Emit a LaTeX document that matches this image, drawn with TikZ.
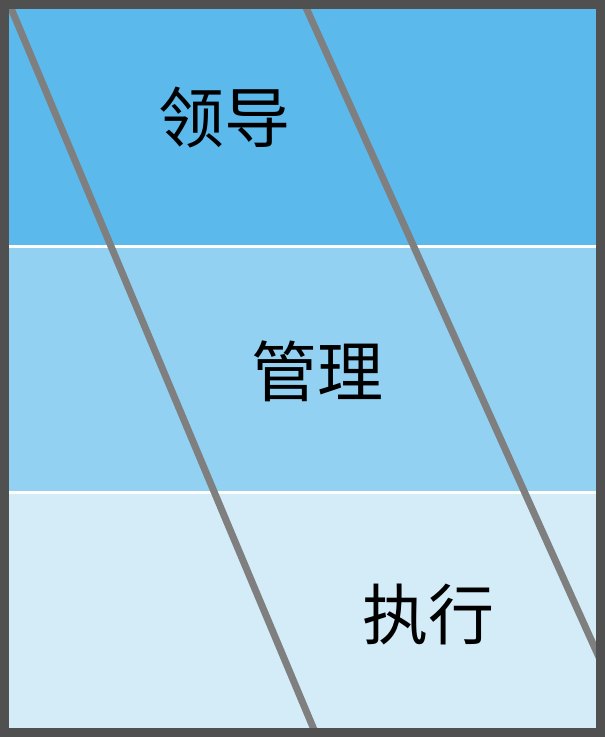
\documentclass[tikz,border=0pt]{standalone}
\usepackage{fontspec}
\newfontfamily\cjk{Noto Sans CJK SC}
\definecolor{topband}{HTML}{5BB9EC}
\definecolor{midband}{HTML}{92D1F2}
\definecolor{lowband}{HTML}{D3ECF8}
\definecolor{diag}{HTML}{7F7F7F}
\definecolor{frame}{HTML}{505050}
\tikzset{
  band/.style={draw=none},
  sep/.style={white, line width=3pt},
  diagline/.style={diag, line width=7pt},
  label/.style={font=\cjk\fontsize{66}{72}\selectfont, text=black, inner sep=0pt},
}
\begin{document}
\begin{tikzpicture}[x=1pt,y=-1pt]
\useasboundingbox (0,0) rectangle (605,737);
\begin{scope}
  \clip (0,0) rectangle (605,737);
  \fill[topband] (0,0) rectangle (605,246);
  \fill[midband] (0,246) rectangle (605,492);
  \fill[lowband] (0,492) rectangle (605,737);
  \draw[sep] (0,246) -- (605,246);
  \draw[sep] (0,492) -- (605,492);
  \coordinate (d1a) at (7.6,0);
  \coordinate (d1b) at (317.1,737);
  \coordinate (d2a) at (302.6,0);
  \coordinate (d2b) at (635,737);
  \draw[diagline] (d1a) -- (d1b);
  \draw[diagline] (d2a) -- (d2b);
\end{scope}
\draw[frame, line width=9pt] (4.5,4.5) rectangle (600.5,732.5);
\node[label] (lead) at (224,118) {领导};
\node[label] (mgmt) at (317,371) {管理};
\node[label] (exec) at (428,614) {执行};
\end{tikzpicture}
\end{document}
